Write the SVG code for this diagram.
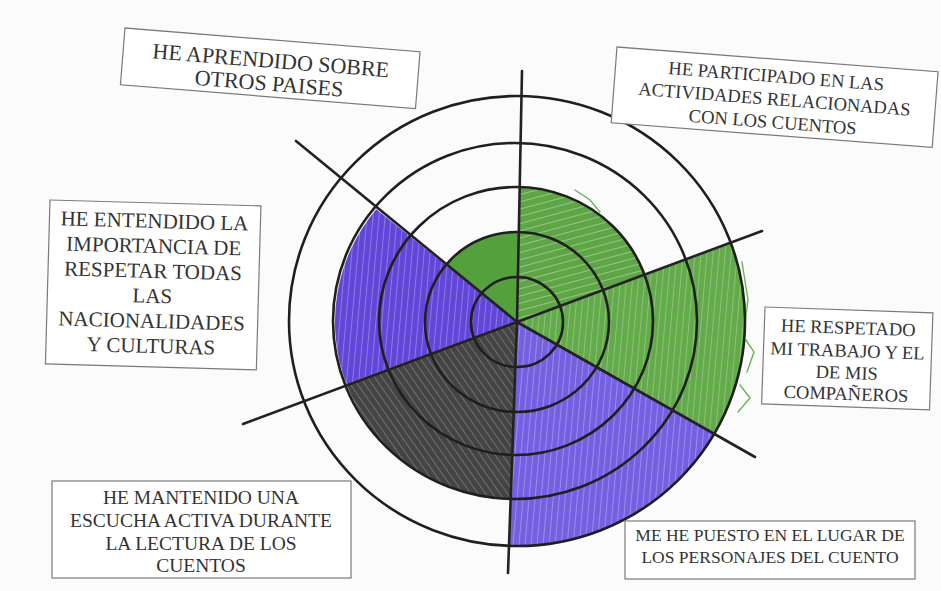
<svg xmlns="http://www.w3.org/2000/svg" width="941" height="591" viewBox="0 0 941 591">
<defs>
<style>
.box{fill:#ffffff;stroke:#7a7a7a;stroke-width:1.2}
.t{font-family:"Liberation Serif","Times New Roman",serif;fill:#333333;text-anchor:middle}
.ring{fill:none;stroke:#1f1f1f;stroke-width:2.6}
.ray{stroke:#222;stroke-width:2.6;stroke-linecap:round}
.scr{fill:none;stroke-width:1.4;stroke-linecap:round}
</style>
<pattern id="stA" width="7" height="7" patternUnits="userSpaceOnUse" patternTransform="rotate(75)">
<line x1="0" y1="0" x2="0" y2="7" stroke="#ffffff" stroke-width="1.6" stroke-opacity="0.45"/>
</pattern>
<pattern id="stB" width="6" height="6" patternUnits="userSpaceOnUse" patternTransform="rotate(5)">
<line x1="0" y1="0" x2="0" y2="6" stroke="#ffffff" stroke-width="1.4" stroke-opacity="0.4"/>
</pattern>
<pattern id="stC" width="6" height="6" patternUnits="userSpaceOnUse" patternTransform="rotate(-35)">
<line x1="0" y1="0" x2="0" y2="6" stroke="#ffffff" stroke-width="1.3" stroke-opacity="0.35"/>
</pattern>
</defs>
<rect width="941" height="591" fill="#fbfbfb"/>

<g id="sectors">
<path d="M517,322 L519.7,188 A137,134 0 0,1 645.4,275.3 Z" fill="#5ea545"/>
<path d="M517,322 L519.7,188 A137,134 0 0,1 645.4,275.3 Z" fill="url(#stA)"/>
<path d="M517,322 L730.7,243.7 A228,225 0 0,1 715.3,433 Z" fill="#62aa4a"/>
<path d="M517,322 L730.7,243.7 A228,225 0 0,1 715.3,433 Z" fill="url(#stB)"/>
<path d="M517,322 L715.3,433 A228,225 0 0,1 508.8,546.9 Z" fill="#7460e0"/>
<path d="M517,322 L715.3,433 A228,225 0 0,1 508.8,546.9 Z" fill="url(#stB)"/>
<path d="M517,322 L510.5,499.9 A182,178 0 0,1 346.4,384.1 Z" fill="#444444"/>
<path d="M517,322 L510.5,499.9 A182,178 0 0,1 346.4,384.1 Z" fill="url(#stC)"/>
<path d="M517,322 L346.4,384.1 A182,178 0 0,1 376.2,209.2 Z" fill="#6146d8"/>
<path d="M517,322 L346.4,384.1 A182,178 0 0,1 376.2,209.2 Z" fill="url(#stB)"/>
<path d="M517,322 L445.8,265 A92,90 0 0,1 518.8,232 Z" fill="#54a03c"/>
<g class="scr" stroke="#6cb352">
<polyline points="742,262 748,300 744,330"/>
<polyline points="746,340 754,352 747,372"/>
<polyline points="740,385 750,398 738,412"/>
<polyline points="575,190 590,200 600,212"/>
</g>
</g>

<g id="target">
<ellipse class="ring" cx="517" cy="322" rx="46" ry="45"/>
<ellipse class="ring" cx="517" cy="322" rx="92" ry="90"/>
<ellipse class="ring" cx="516" cy="321" rx="137" ry="134"/>
<ellipse class="ring" cx="515" cy="321" rx="182" ry="178"/>
<ellipse class="ring" cx="517" cy="321" rx="228" ry="225"/>
</g>

<g id="connectors">
<line class="ray" x1="517" y1="322" x2="522" y2="71"/>
<line class="ray" x1="517" y1="322" x2="762" y2="231"/>
<line class="ray" x1="517" y1="322" x2="755" y2="457"/>
<line class="ray" x1="517" y1="322" x2="508" y2="573"/>
<line class="ray" x1="517" y1="322" x2="243" y2="424"/>
<line class="ray" x1="517" y1="322" x2="296" y2="141"/>
</g>

<g id="box-aprendido" transform="translate(125,28) rotate(4.6)">
<rect class="box" x="0" y="0" width="296" height="57"/>
<text class="t" font-size="22" x="148" y="28">HE APRENDIDO SOBRE</text>
<text class="t" font-size="22" x="148" y="51">OTROS PAISES</text>
</g>

<g id="box-participado" transform="translate(617,47) rotate(4.4)">
<rect class="box" x="0" y="0" width="322" height="76"/>
<text class="t" font-size="18.5" x="161" y="23">HE PARTICIPADO EN LAS</text>
<text class="t" font-size="18.5" x="161" y="46">ACTIVIDADES RELACIONADAS</text>
<text class="t" font-size="18.5" x="161" y="69">CON LOS CUENTOS</text>
</g>

<g id="box-entendido" transform="translate(50,200) rotate(1.6)">
<rect class="box" x="0" y="0" width="211" height="164"/>
<text class="t" font-size="21" x="105" y="25">HE ENTENDIDO LA</text>
<text class="t" font-size="21" x="105" y="50">IMPORTANCIA DE</text>
<text class="t" font-size="21" x="105" y="75">RESPETAR TODAS</text>
<text class="t" font-size="21" x="105" y="100">LAS</text>
<text class="t" font-size="21" x="105" y="125">NACIONALIDADES</text>
<text class="t" font-size="21" x="105" y="150">Y CULTURAS</text>
</g>

<g id="box-respetado" transform="translate(765,307) rotate(2)">
<rect class="box" x="0" y="0" width="168" height="97"/>
<text class="t" font-size="18.5" x="84" y="24">HE RESPETADO</text>
<text class="t" font-size="18.5" x="84" y="47">MI TRABAJO Y EL</text>
<text class="t" font-size="18.5" x="84" y="69">DE MIS</text>
<text class="t" font-size="18.5" x="84" y="90">COMPAÑEROS</text>
</g>

<g id="box-mantenido" transform="translate(52,481)">
<rect class="box" x="0" y="0" width="299" height="97"/>
<text class="t" font-size="19.5" x="149" y="23">HE MANTENIDO UNA</text>
<text class="t" font-size="19.5" x="149" y="46">ESCUCHA ACTIVA DURANTE</text>
<text class="t" font-size="19.5" x="149" y="69">LA LECTURA DE LOS</text>
<text class="t" font-size="19.5" x="149" y="91">CUENTOS</text>
</g>

<g id="box-puesto" transform="translate(625,521)">
<rect class="box" x="0" y="0" width="290" height="58"/>
<text class="t" font-size="17.5" x="145" y="20">ME HE PUESTO EN EL LUGAR DE</text>
<text class="t" font-size="17.5" x="145" y="42">LOS PERSONAJES DEL CUENTO</text>
</g>
</svg>
